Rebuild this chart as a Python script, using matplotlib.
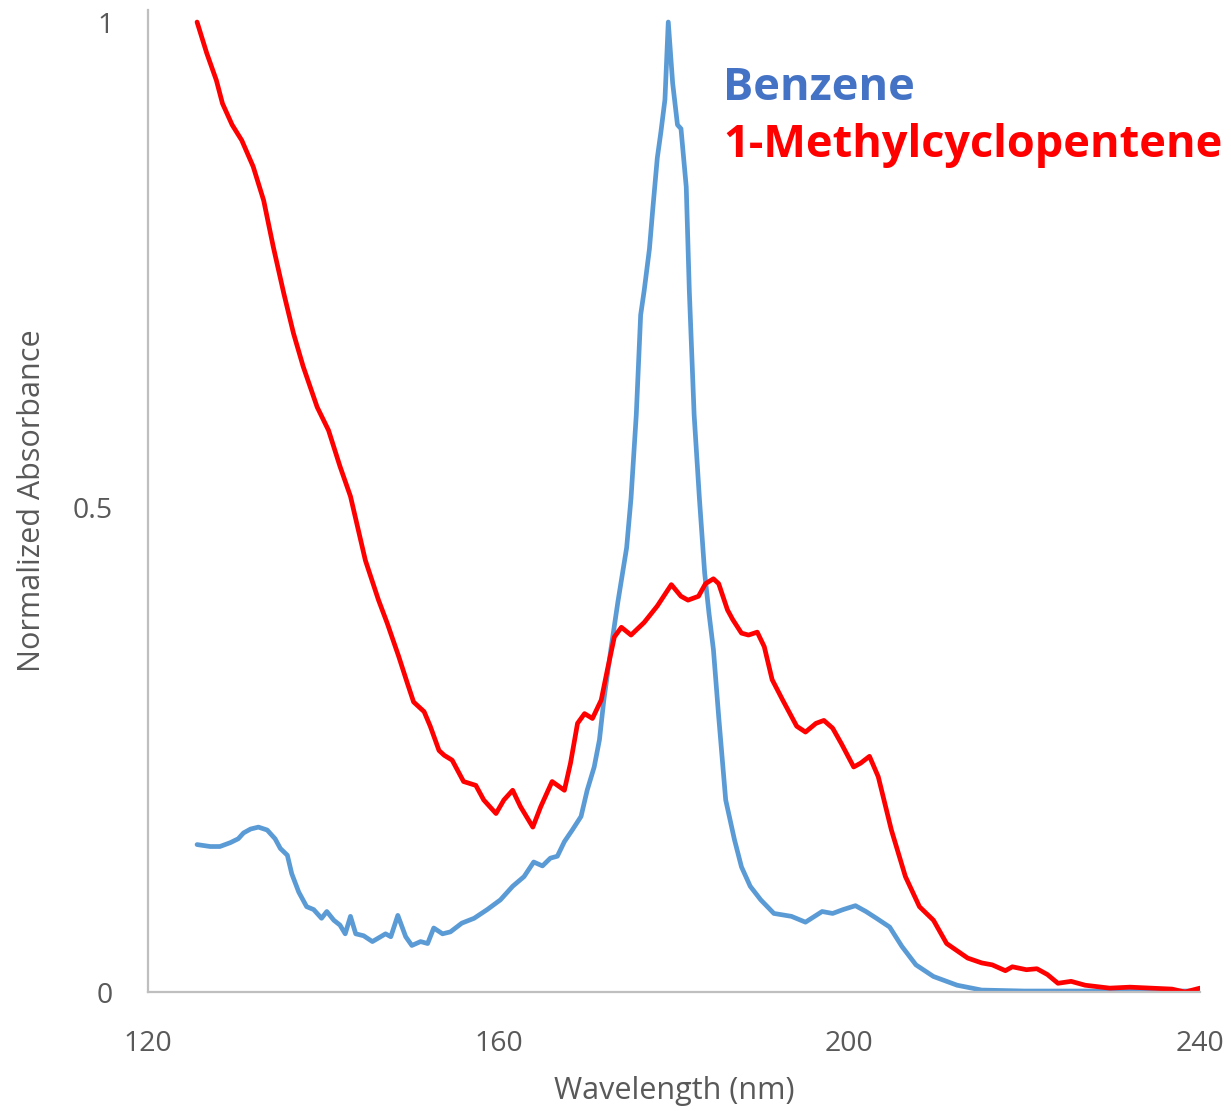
import matplotlib
matplotlib.use('Agg')
import matplotlib.pyplot as plt

benzene_x = [125.6, 127.1, 128.2, 129.4, 130.3, 130.9, 131.7, 132.6, 133.6, 134.5,
             135.1, 135.9, 136.4, 137.2, 138.1, 138.9, 139.8, 140.4, 141.2, 141.9,
             142.5, 143.1, 143.7, 144.6, 145.6, 147.1, 147.7, 148.5, 149.4, 150.1,
             151.1, 151.9, 152.6, 153.6, 154.5, 155.8, 157.2, 158.7, 160.2, 161.6,
             162.9, 164.0, 165.0, 165.9, 166.7, 167.5, 168.4, 169.4, 170.1, 170.9,
             171.5, 172.0, 172.8, 173.6, 174.6, 175.1, 175.7, 176.2, 176.6, 177.2,
             177.6, 178.1, 178.5, 178.97, 179.35, 179.85, 180.4, 180.8, 181.4, 181.75,
             182.3, 182.9, 183.5, 184.0, 184.5, 185.1, 185.9, 186.9, 187.7, 188.7,
             189.9, 191.4, 193.4, 195.0, 196.9, 198.1, 199.3, 200.7, 201.9, 203.1,
             204.6, 206.0, 207.6, 209.6, 212.3, 215.1, 220.0, 230.0, 240.0]
benzene_y = [0.152, 0.150, 0.150, 0.154, 0.158, 0.164, 0.168, 0.170, 0.167, 0.158,
             0.148, 0.141, 0.122, 0.103, 0.088, 0.085, 0.076, 0.083, 0.074, 0.069,
             0.060, 0.078, 0.060, 0.058, 0.052, 0.060, 0.057, 0.079, 0.057, 0.048,
             0.052, 0.050, 0.066, 0.060, 0.062, 0.071, 0.076, 0.085, 0.095, 0.109,
             0.119, 0.134, 0.130, 0.138, 0.140, 0.155, 0.167, 0.181, 0.208, 0.232,
             0.260, 0.301, 0.353, 0.402, 0.458, 0.509, 0.595, 0.698, 0.723, 0.766,
             0.809, 0.860, 0.886, 0.920, 1.000, 0.937, 0.894, 0.890, 0.830, 0.723,
             0.595, 0.509, 0.432, 0.390, 0.353, 0.284, 0.198, 0.157, 0.129, 0.109,
             0.095, 0.081, 0.078, 0.072, 0.083, 0.081, 0.085, 0.089, 0.083, 0.076,
             0.067, 0.047, 0.028, 0.016, 0.007, 0.002, 0.001, 0.001, 0.001]

mcp_x = [125.6, 126.7, 127.8, 128.5, 129.6, 130.7, 132.0, 133.2, 134.3, 135.5,
         136.6, 137.7, 139.3, 140.6, 141.9, 143.1, 144.8, 146.3, 147.3, 148.6,
         149.6, 150.3, 151.5, 152.2, 153.2, 153.8, 154.7, 156.0, 157.4, 158.3,
         159.7, 160.6, 161.6, 162.5, 163.9, 164.8, 166.1, 167.5, 168.2, 169.0,
         169.8, 170.7, 171.7, 172.4, 173.2, 174.0, 175.1, 176.6, 178.1, 179.7,
         180.8, 181.6, 182.8, 183.6, 184.5, 185.1, 186.1, 186.7, 187.7, 188.5,
         189.5, 190.3, 191.2, 192.4, 194.0, 195.0, 196.2, 197.1, 198.1, 199.1,
         200.5, 201.3, 202.3, 203.3, 204.8, 206.4, 208.0, 209.6, 211.1, 213.5,
         215.1, 216.3, 217.8, 218.6, 220.2, 221.4, 222.6, 223.8, 225.3, 226.9,
         229.7, 232.0, 234.4, 236.8, 238.3, 240.0]
mcp_y = [1.000, 0.968, 0.940, 0.916, 0.894, 0.878, 0.851, 0.816, 0.768, 0.720,
         0.679, 0.645, 0.603, 0.579, 0.542, 0.511, 0.445, 0.404, 0.380, 0.346,
         0.318, 0.299, 0.289, 0.274, 0.249, 0.244, 0.239, 0.217, 0.213, 0.198,
         0.184, 0.198, 0.208, 0.191, 0.170, 0.191, 0.217, 0.208, 0.236, 0.277,
         0.287, 0.282, 0.301, 0.332, 0.366, 0.376, 0.368, 0.381, 0.398, 0.420,
         0.408, 0.404, 0.408, 0.421, 0.426, 0.421, 0.394, 0.384, 0.370, 0.368,
         0.371, 0.356, 0.322, 0.301, 0.274, 0.268, 0.277, 0.280, 0.272, 0.256,
         0.232, 0.236, 0.243, 0.222, 0.167, 0.119, 0.088, 0.074, 0.050, 0.035,
         0.030, 0.028, 0.022, 0.026, 0.023, 0.024, 0.018, 0.009, 0.011, 0.007,
         0.004, 0.005, 0.004, 0.003, 0.000, 0.004]

x_ticks = [120, 160, 200, 240]
y_ticks = [0, 0.5, 1]
y_ticklabels = ['0', '0.5', '1']

plt.rcParams['font.family'] = ['Open Sans', 'DejaVu Sans']
grey = '#595959'

fig = plt.figure(figsize=(12.31, 11.11), dpi=100)
ax = fig.add_axes([0.1202, 0.1071, 0.8546, 0.8839])

ax.plot(benzene_x, benzene_y, color='#5B9BD5', lw=3.4, solid_joinstyle='round', solid_capstyle='round')
ax.plot(mcp_x, mcp_y, color='#FF0000', lw=3.4, solid_joinstyle='round', solid_capstyle='round')

ax.set_xlim(120, 240)
ax.set_ylim(0, 1.0124)
ax.set_xticks(x_ticks)
ax.set_yticks(y_ticks)
ax.set_yticklabels(y_ticklabels)
ax.tick_params(axis='both', length=0, labelsize=20.5, labelcolor=grey)
ax.tick_params(axis='x', pad=27)
ax.tick_params(axis='y', pad=25)

for s in ['top', 'right']:
    ax.spines[s].set_visible(False)
for s in ['left', 'bottom']:
    ax.spines[s].set_color('#BFBFBF')
    ax.spines[s].set_linewidth(1.6)

ax.set_xlabel('Wavelength (nm)', fontsize=22, color=grey, labelpad=13)
ax.set_ylabel('Normalized Absorbance', fontsize=22, color=grey, labelpad=19)

fig.text(0.5873, 0.910, 'Benzene', color='#4472C4', fontsize=32.5, fontweight='bold', va='baseline')
fig.text(0.5873, 0.8587, '1-Methylcyclopentene', color='#FF0000', fontsize=32.5, fontweight='bold', va='baseline')

fig.savefig('out.png', dpi=100)
